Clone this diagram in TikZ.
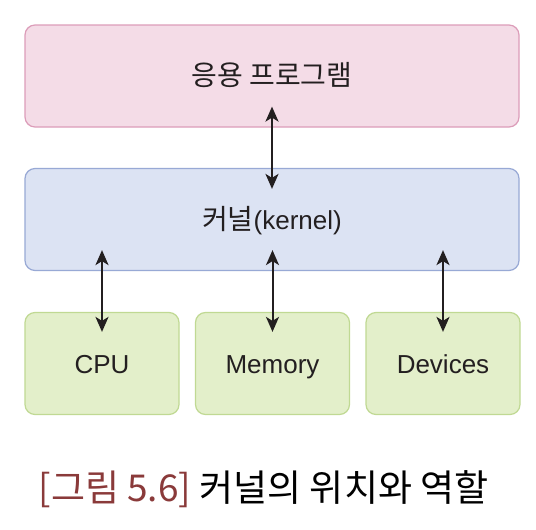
\documentclass[tikz,border=0pt]{standalone}
\usepackage{fontspec}
\setmainfont{Liberation Sans}
\newfontfamily\kr{Noto Sans CJK KR}
\usepackage{xcolor}
\usepackage{tikz}
\usetikzlibrary{positioning,calc,arrows.meta}
\definecolor{appfill}{HTML}{F4DCE7}
\definecolor{appline}{HTML}{DC9DB9}
\definecolor{kerfill}{HTML}{DCE3F3}
\definecolor{kerline}{HTML}{98A9D5}
\definecolor{hwfill}{HTML}{E3EFCA}
\definecolor{hwline}{HTML}{C0D993}
\definecolor{capred}{HTML}{8A3A3A}
\definecolor{ink}{HTML}{231F20}
\tikzstyle{blk}= [rectangle, rounded corners=10pt, line width=1.2pt, minimum height=102pt, inner sep=0pt, text height=19pt, text depth=0pt, text=ink, font=\fontsize{26}{30}\selectfont]
\tikzstyle{arr}= [{Stealth[length=15pt,width=13pt,inset=4pt]}-{Stealth[length=15pt,width=13pt,inset=4pt]}, line width=2pt, ink]

\begin{document}
\begin{tikzpicture}[x=1pt, y=-1pt]
				\useasboundingbox[fill=white] (0, 0) rectangle (536, 530);
				\node[blk, fill=appfill, draw=appline, minimum width=494pt] (app) at (272, 76) {\kr\fontsize{28}{32}\selectfont 응용 프로그램};
				\node[blk, fill=kerfill, draw=kerline, minimum width=494pt] (kernel) at (272, 219.5) {{\kr\fontsize{28}{32}\selectfont 커널}(kernel)};
				\node[blk, fill=hwfill, draw=hwline, minimum width=154pt] (cpu) at (102, 363.5) {CPU};
				\node[blk, fill=hwfill, draw=hwline, minimum width=154pt] (mem) at (272.5, 363.5) {Memory};
				\node[blk, fill=hwfill, draw=hwline, minimum width=154pt] (dev) at (443, 363.5) {Devices};
				\draw[arr, shorten <=-21pt, shorten >=-21pt] (app.south) -- (kernel.north);
				\draw[arr, shorten <=-21pt, shorten >=-20pt] (kernel.south -| cpu.north) -- (cpu.north);
				\draw[arr, shorten <=-21pt, shorten >=-20pt] (kernel.south -| mem.north) -- (mem.north);
				\draw[arr, shorten <=-21pt, shorten >=-20pt] (kernel.south -| dev.north) -- (dev.north);
				\node[font=\kr\fontsize{37}{41}\selectfont] (cap) at (263.5, 489) {\textcolor{capred}{[그림 5.6]} 커널의 위치와 역할};
			\end{tikzpicture}
\end{document}
